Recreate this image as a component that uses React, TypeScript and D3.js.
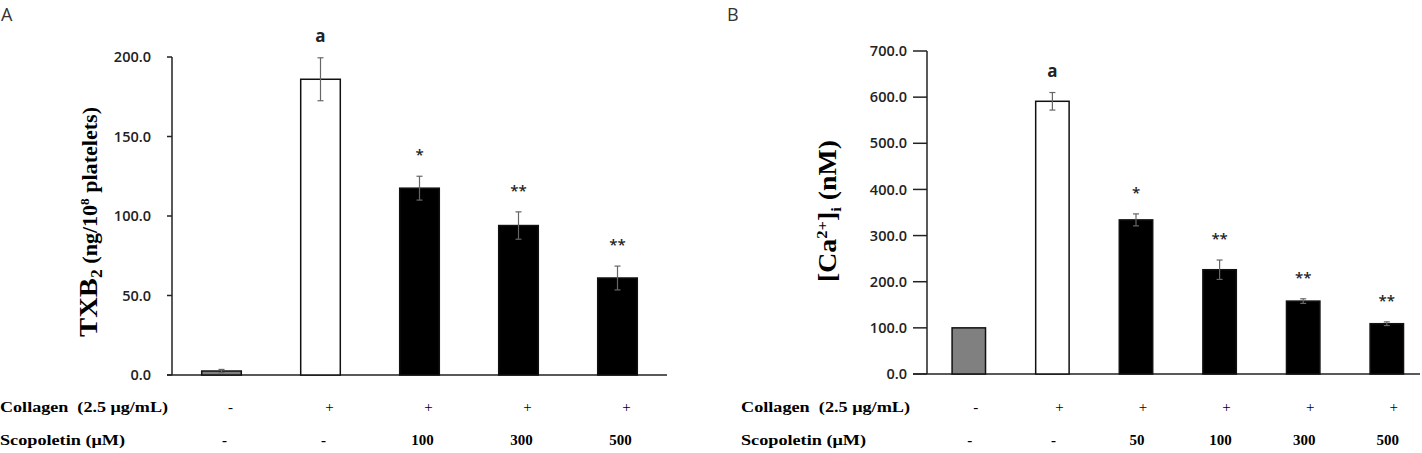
import { useEffect } from 'react'
import * as d3 from 'd3'

// TXB2 panel
const txbCollagen = ['-', '+', '+', '+', '+']
const txbScopoletin = ['-', '-', '100', '300', '500']
const txbValues = [2.5, 186, 117.5, 94, 61]
const txbErrors = [1, 13.5, 7.5, 8.6, 7.5]
const txbMarks = ['', 'a', '*', '**', '**']
const txbTicks = [0, 50, 100, 150, 200]

// [Ca2+]i panel
const caCollagen = ['-', '+', '+', '+', '+', '+']
const caScopoletin = ['-', '-', '50', '100', '300', '500']
const caValues = [100, 591, 334, 226, 158, 109]
const caErrors = [0, 19, 13, 21, 5, 4]
const caMarks = ['', 'a', '*', '**', '**', '**']
const caTicks = [0, 100, 200, 300, 400, 500, 600, 700]

const serif = '"Liberation Serif", "Times New Roman", serif'
const sans = '"Open Sans", "Noto Sans", sans-serif'

// resting platelets grey, collagen alone white, scopoletin groups black
const fillFor = (i: number) => (i === 0 ? '#808080' : i === 1 ? '#ffffff' : '#000000')

interface PanelProps {
  letter: string
  letterX: number
  values: number[]
  errors: number[]
  marks: string[]
  collagen: string[]
  scopoletin: string[]
  ticks: number[]
  yMax: number
  axisX: number
  bandEnd: number
  axisEnd: number
  yTop: number
  yBottom: number
  tickLen: number
  tickLabelX: number
  rowLabelX: number
  collagenLen: number
  scopoletinLen: number
  collagenShift: number
  scopoletinShift: number
  title: React.ReactNode
  titleX: number
  titleY: number
  titleLen: number
}

function Panel(p: PanelProps) {
  const idx = p.values.map((_, i) => String(i))
  const x = d3.scaleBand<string>().domain(idx).range([p.axisX, p.bandEnd]).paddingInner(0.6).paddingOuter(0.3)
  const y = d3.scaleLinear().domain([0, p.yMax]).range([p.yBottom, p.yTop])
  const bw = x.bandwidth()
  const collagenY = 411.5
  const scopoletinY = 445

  return (
    <g>
      <text x={p.letterX} y={21} fontFamily={sans} fontSize={18} fill="#333">{p.letter}</text>

      {/* y axis */}
      <line x1={p.axisX} x2={p.axisX} y1={y(p.yMax)} y2={y(0)} stroke="#222" strokeWidth={1.5} />
      {p.ticks.map((t) => (
        <g key={t}>
          <line x1={p.axisX - p.tickLen} x2={p.axisX} y1={y(t)} y2={y(t)} stroke="#222" strokeWidth={1.5} />
          <text x={p.tickLabelX} y={y(t)} dy="0.35em" textAnchor="end" fontFamily={sans} fontWeight={600} fontSize={14.5} fill="#222">
            {d3.format('.1f')(t)}
          </text>
        </g>
      ))}
      {/* x axis */}
      <line x1={p.axisX - p.tickLen} x2={p.axisEnd} y1={y(0)} y2={y(0)} stroke="#222" strokeWidth={1.5} />

      {/* bars */}
      {p.values.map((v, i) => (
        <rect key={i} x={x(String(i))!} y={y(v)} width={bw} height={y(0) - y(v)} fill={fillFor(i)} stroke="#111" strokeWidth={1.5} />
      ))}

      {/* error bars */}
      {p.values.map((v, i) => {
        const e = p.errors[i]
        if (!e) return null
        const cx = x(String(i))! + bw / 2
        return (
          <g key={i} stroke="#666" strokeWidth={1.2}>
            <line x1={cx} x2={cx} y1={y(v + e)} y2={y(v - e)} />
            <line x1={cx - 3} x2={cx + 3} y1={y(v + e)} y2={y(v + e)} />
            <line x1={cx - 3} x2={cx + 3} y1={y(v - e)} y2={y(v - e)} />
          </g>
        )
      })}

      {/* significance marks */}
      {p.marks.map((m, i) => {
        if (!m) return null
        const cx = x(String(i))! + bw / 2
        const top = y(p.values[i] + p.errors[i])
        return m === 'a' ? (
          <text key={i} x={cx} y={top - 16} textAnchor="middle" fontFamily={sans} fontWeight={700} fontSize={17} fill="#222">a</text>
        ) : (
          <text key={i} x={cx} y={top - 16} textAnchor="middle" fontFamily={sans} fontWeight={600} fontSize={15} fill="#222">{m}</text>
        )
      })}

      {/* treatment rows */}
      <text x={p.rowLabelX} y={collagenY} fontFamily={serif} fontWeight={700} fontSize={15} textLength={p.collagenLen} lengthAdjust="spacingAndGlyphs" style={{ whiteSpace: 'pre' }}>
        {'Collagen  (2.5 μg/mL)'}
      </text>
      <text x={p.rowLabelX} y={scopoletinY} fontFamily={serif} fontWeight={700} fontSize={15} textLength={p.scopoletinLen} lengthAdjust="spacingAndGlyphs">
        Scopoletin (μM)
      </text>
      {p.collagen.map((c, i) => (
        <text key={'c' + i} x={x(String(i))! + bw / 2 + p.collagenShift} y={collagenY} textAnchor="middle" fontFamily={serif} fontWeight={400} fontSize={15}>{c}</text>
      ))}
      {p.scopoletin.map((s, i) => (
        <text key={'s' + i} x={x(String(i))! + bw / 2 + p.scopoletinShift} y={scopoletinY} textAnchor="middle" fontFamily={serif} fontWeight={700} fontSize={15}>{s}</text>
      ))}

      {/* y title */}
      <text transform={`translate(${p.titleX},${p.titleY}) rotate(-90)`} y={9} textAnchor="middle" fontFamily={serif} fontWeight={700} textLength={p.titleLen} lengthAdjust="spacingAndGlyphs">
        {p.title}
      </text>
    </g>
  )
}

export default function App() {
  useEffect(() => {
    document.body.style.margin = '0'
  }, [])

  return (
    <svg width={1422} height={453} style={{ display: 'block', background: '#fff' }}>
      <Panel
        letter="A"
        letterX={1}
        values={txbValues}
        errors={txbErrors}
        marks={txbMarks}
        collagen={txbCollagen}
        scopoletin={txbScopoletin}
        ticks={txbTicks}
        yMax={200}
        axisX={172}
        bandEnd={667}
        axisEnd={667}
        yTop={57}
        yBottom={375}
        tickLen={5}
        tickLabelX={151}
        rowLabelX={0}
        collagenLen={168}
        scopoletinLen={125}
        collagenShift={9}
        scopoletinShift={3}
        titleX={88}
        titleY={222}
        titleLen={230}
        title={
          <>
            <tspan fontSize={26}>TXB</tspan>
            <tspan fontSize={16} dy={5}>2</tspan>
            <tspan fontSize={20} dy={-5}> (ng/10</tspan>
            <tspan fontSize={12} dy={-8}>8</tspan>
            <tspan fontSize={20} dy={8}> platelets)</tspan>
          </>
        }
      />
      <Panel
        letter="B"
        letterX={727}
        values={caValues}
        errors={caErrors}
        marks={caMarks}
        collagen={caCollagen}
        scopoletin={caScopoletin}
        ticks={caTicks}
        yMax={700}
        axisX={927}
        bandEnd={1428.6}
        axisEnd={1420}
        yTop={51}
        yBottom={374}
        tickLen={14}
        tickLabelX={907}
        rowLabelX={741}
        collagenLen={169}
        scopoletinLen={125}
        collagenShift={7}
        scopoletinShift={1}
        titleX={827}
        titleY={211}
        titleLen={142}
        title={
          <>
            <tspan fontSize={25}>[Ca</tspan>
            <tspan fontSize={15} dy={-9}>2+</tspan>
            <tspan fontSize={25} dy={9}>]</tspan>
            <tspan fontSize={15} dy={5}>i</tspan>
            <tspan fontSize={25} dy={-5}> (nM)</tspan>
          </>
        }
      />
    </svg>
  )
}
